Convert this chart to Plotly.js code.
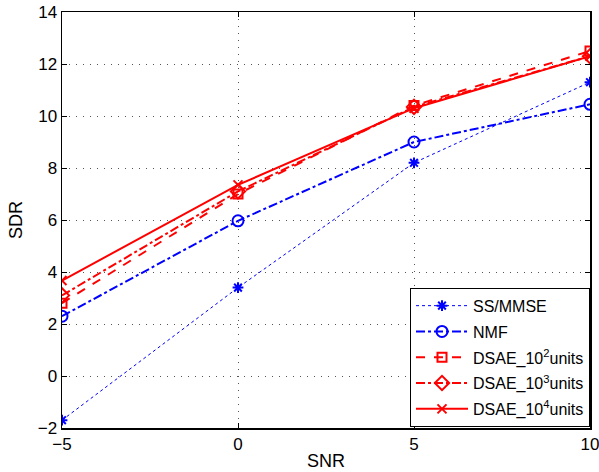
<!DOCTYPE html>
<html><head><meta charset="utf-8">
<script src="https://cdn.plot.ly/plotly-3.0.1.min.js"></script>
<style>body{margin:0;padding:0;background:#fff}#chart{width:599px;height:472px}</style>
</head><body><div id="chart"></div>
<script>
const snr = [-5, 0, 5, 10];
const ssmmse = [-1.7, 3.4, 8.2, 11.3];
const nmf = [2.3, 5.97, 9.0, 10.45];
const dsae2 = [2.8, 7.0, 10.4, 12.5];
const dsae3 = [3.1, 7.1, 10.35, 12.3];
const dsae4 = [3.67, 7.35, 10.3, 12.3];
const names = ['SS/MMSE', 'NMF', 'DSAE_10<sup>2</sup>units', 'DSAE_10<sup>3</sup>units', 'DSAE_10<sup>4</sup>units'];
const xTicks = [-5, 0, 5, 10];
const yTicks = [-2, 0, 2, 4, 6, 8, 10, 12, 14];

const blue = '#0000ff', red = '#ff0000';
const FONT = 'Liberation Sans, Arial, sans-serif';
const traces = [
  {y: ssmmse, name: names[0], line: {color: blue, dash: 'dot', width: 1}, marker: {symbol: 'asterisk-open', size: 9, color: blue, line: {color: blue, width: 2}}},
  {y: nmf, name: names[1], line: {color: blue, dash: 'dashdot', width: 2}, marker: {symbol: 'circle-open', size: 11, color: blue, line: {color: blue, width: 2}}},
  {y: dsae2, name: names[2], line: {color: red, dash: 'dash', width: 2}, marker: {symbol: 'square-open', size: 9, color: red, line: {color: red, width: 2}}},
  {y: dsae3, name: names[3], line: {color: red, dash: 'dashdot', width: 2}, marker: {symbol: 'diamond-open', size: 11, color: red, line: {color: red, width: 2}}},
  {y: dsae4, name: names[4], line: {color: red, dash: 'solid', width: 2}, marker: {symbol: 'x-thin-open', size: 9, color: red, line: {color: red, width: 2}}}
].map((t, i) => Object.assign({x: snr, type: 'scatter', mode: 'lines+markers', legendgroup: 'g' + i}, t));

const axisCommon = {
  showline: true, mirror: 'ticks', linecolor: '#000', linewidth: 1.5,
  ticks: 'inside', ticklen: 5, tickcolor: '#000',
  showgrid: true, gridcolor: '#555', griddash: '1px,6px', gridwidth: 1,
  zeroline: false, ticklabeloverflow: 'allow', tickfont: {family: FONT, size: 17, color: '#000'}
};
const layout = {
  width: 599, height: 472,
  margin: {l: 62, r: 9, t: 12, b: 44},
  paper_bgcolor: '#fff', plot_bgcolor: '#fff',
  showlegend: true,
  xaxis: Object.assign({}, axisCommon, {range: [-5, 10], tickvals: xTicks, ticktext: xTicks.map(v => v < 0 ? '\u2212' + Math.abs(v) : String(v)),
    title: {text: 'SNR', font: {family: FONT, size: 18, color: '#000'}, standoff: 1}}),
  yaxis: Object.assign({}, axisCommon, {range: [-2, 14], tickvals: yTicks, ticktext: yTicks.map(v => v < 0 ? '\u2212' + Math.abs(v) : String(v)),
    title: {text: 'SDR', font: {family: FONT, size: 18, color: '#000'}, standoff: 10}}),
  legend: {x: 1, y: 0.003, xanchor: 'right', yanchor: 'bottom', bgcolor: '#fff', bordercolor: '#000', borderwidth: 1,
    font: {family: FONT, size: 16, color: '#000'}, traceorder: 'grouped', tracegroupgap: 2, itemwidth: 52}
};
Plotly.newPlot('chart', traces, layout, {staticPlot: true});
</script></body></html>
